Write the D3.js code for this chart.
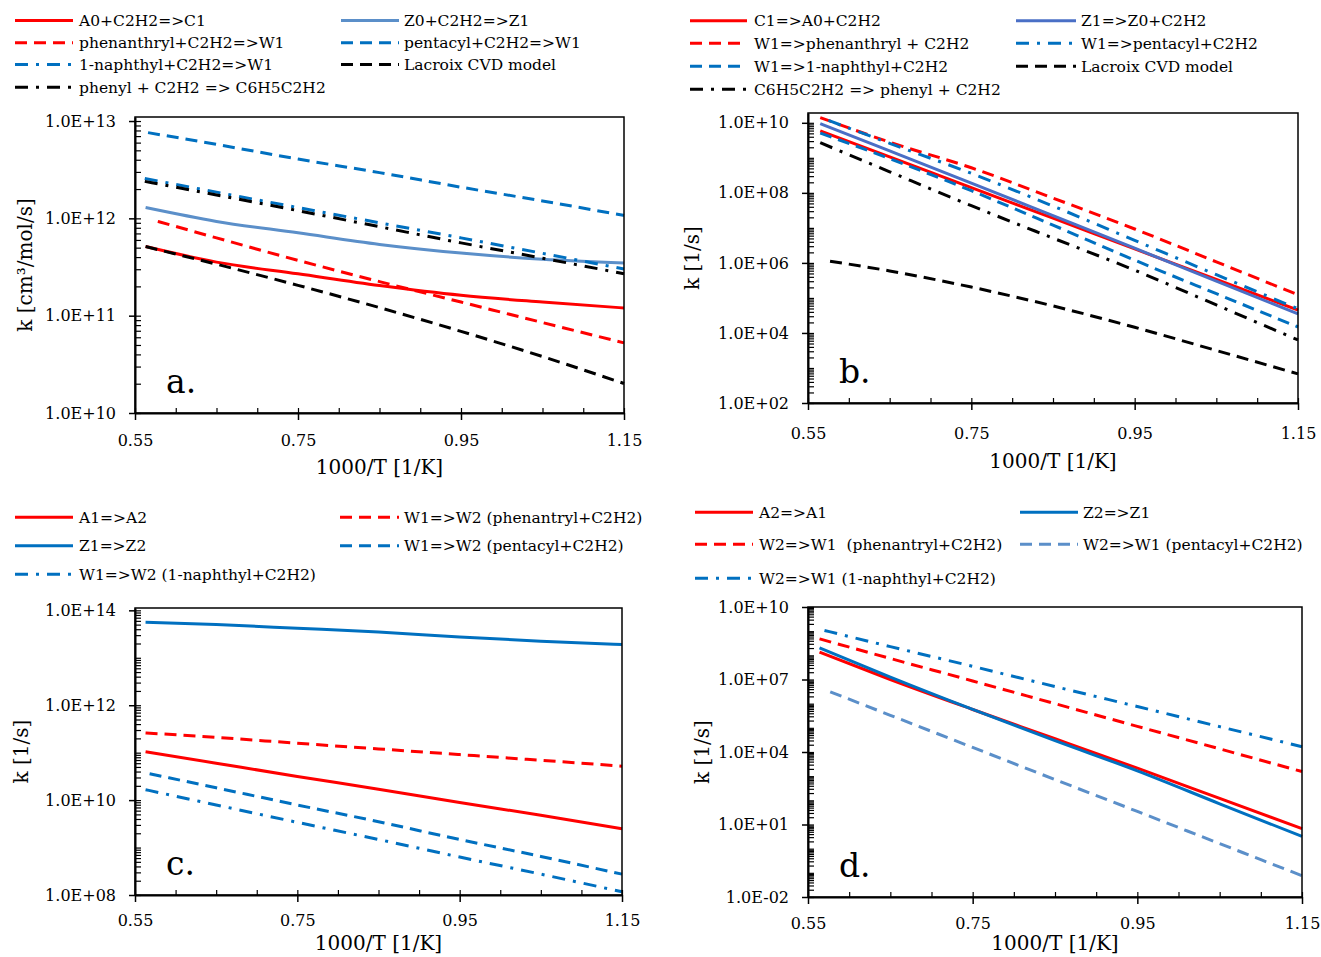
<!DOCTYPE html>
<html>
<head>
<meta charset="utf-8">
<script src="https://cdn.jsdelivr.net/npm/d3@7"></script>
<style>
body{margin:0;background:#fff;}
svg text{font-family:"DejaVu Serif",serif;fill:#000;white-space:pre;}
</style>
</head>
<body>
<svg id="chart" width="1321" height="957"></svg>
<script>
// x grid shared by all curves (first point is per-series start)
const xGrid = [0.65, 0.75, 0.85, 0.95, 1.05, 1.15];
const xTicks = [0.55, 0.75, 0.95, 1.15];
const xMinor = [0.60, 0.65, 0.70, 0.80, 0.85, 0.90, 1.00, 1.05, 1.10];

// ---- panel a ----
const aNames = ["A0+C2H2=>C1", "Z0+C2H2=>Z1", "phenanthryl+C2H2=>W1", "pentacyl+C2H2=>W1",
                "1-naphthyl+C2H2=>W1", "Lacroix CVD model", "phenyl + C2H2 => C6H5C2H2"];
const aStart = [0.563, 0.563, 0.578, 0.566, 0.562, 0.563, 0.562];
const aK = [
  [5.13e11, 3.55e11, 2.69e11, 2.04e11, 1.62e11, 1.38e11, 1.20e11],
  [1.29e12, 9.3e11, 7.1e11, 5.4e11, 4.4e11, 3.8e11, 3.47e11],
  [9.3e11, 6.3e11, 3.7e11, 2.24e11, 1.38e11, 8.5e10, 5.25e10],
  [7.6e12, 5.75e12, 4.07e12, 2.95e12, 2.09e12, 1.51e12, 1.07e12],
  [2.57e12, 1.86e12, 1.29e12, 9.0e11, 6.3e11, 4.37e11, 3.02e11],
  [5.13e11, 3.38e11, 2.05e11, 1.21e11, 6.9e10, 3.8e10, 2.01e10],
  [2.4e12, 1.74e12, 1.2e12, 8.2e11, 5.6e11, 3.9e11, 2.7e11]
];
const aTicks = [1e10, 1e11, 1e12, 1e13];

// ---- panel b ----
const bNames = ["C1=>A0+C2H2", "Z1=>Z0+C2H2", "W1=>phenanthryl + C2H2", "W1=>pentacyl+C2H2",
                "W1=>1-naphthyl+C2H2", "Lacroix CVD model", "C6H5C2H2 => phenyl + C2H2"];
const bStart = [0.565, 0.565, 0.565, 0.575, 0.565, 0.577, 0.565];
const bK = [
  [5.9e9, 1.07e9, 1.41e8, 1.9e7, 2.5e6, 3.4e5, 4.5e4],
  [9.5e9, 1.58e9, 1.9e8, 2.24e7, 2.63e6, 3.0e5, 3.5e4],
  [1.41e10, 2.8e9, 5.2e8, 7.1e7, 9.3e6, 1.07e6, 1.23e5],
  [1.17e10, 2.6e9, 3.6e8, 4.2e7, 4.4e6, 4.6e5, 4.9e4],
  [5.1e9, 9.5e8, 1.15e8, 1.2e7, 1.2e6, 1.32e5, 1.48e4],
  [1.12e6, 5.9e5, 2.04e5, 5.9e4, 1.45e4, 3.16e3, 676],
  [2.7e9, 4.0e8, 4.3e7, 5.1e6, 6.2e5, 6.3e4, 6.3e3]
];
const bTicks = [1e2, 1e4, 1e6, 1e8, 1e10];

// ---- panel c ----
const cNames = ["A1=>A2", "W1=>W2 (phenantryl+C2H2)", "Z1=>Z2", "W1=>W2 (pentacyl+C2H2)",
                "W1=>W2 (1-naphthyl+C2H2)"];
const cStart = [0.563, 0.563, 0.563, 0.568, 0.563];
const cK = [
  [1.05e11, 6.0e10, 3.16e10, 1.7e10, 8.9e9, 4.8e9, 2.5e9],
  [2.6e11, 2.1e11, 1.58e11, 1.2e11, 9.1e10, 6.9e10, 5.2e10],
  [5.6e13, 5.0e13, 4.2e13, 3.5e13, 2.75e13, 2.24e13, 1.9e13],
  [3.6e10, 1.82e10, 7.9e9, 3.5e9, 1.48e9, 6.5e8, 2.75e8],
  [1.66e10, 7.9e9, 3.4e9, 1.48e9, 6.3e8, 2.75e8, 1.17e8]
];
const cTicks = [1e8, 1e10, 1e12, 1e14];

// ---- panel d ----
const dNames = ["A2=>A1", "Z2=>Z1", "W2=>W1  (phenantryl+C2H2)", "W2=>W1 (pentacyl+C2H2)",
                "W2=>W1 (1-naphthyl+C2H2)"];
const dStart = [0.564, 0.564, 0.564, 0.577, 0.570];
const dK = [
  [1.35e8, 1.0e7, 5.75e5, 3.55e4, 2.14e3, 120, 6.8],
  [2.04e8, 1.26e7, 5.75e5, 2.95e4, 1.66e3, 72, 3.2],
  [4.8e8, 7.4e7, 8.7e6, 1.0e6, 1.15e5, 1.35e4, 1.55e3],
  [3.1e6, 3.3e5, 1.55e4, 724, 34.7, 1.62, 0.076],
  [1.07e9, 2.3e8, 3.5e7, 5.1e6, 7.6e5, 1.12e5, 1.66e4]
];
const dTicks = [1e-2, 1e1, 1e4, 1e7, 1e10];

// styles
const RED = "#ff0000", BLUE = "#0070c0", STEEL = "#5b8fc9", INDIGO = "#4a6fc6", BLACK = "#000000";
const SOLID = null, DASH = "12,7", DASHDOT = "13,8,3,8";

const panels = [
  {names: aNames, start: aStart, k: aK, ticks: aTicks, yMax: 1.1e13,
   colors: [RED, STEEL, RED, BLUE, BLUE, BLACK, BLACK],
   dashes: [SOLID, SOLID, DASH, DASH, DASHDOT, DASH, DASHDOT],
   left: 135, right: 624, top: 117, bottom: 413, labelPad: 15, titleDy: 61,
   yTitle: "k [cm³/mol/s]", yTitleX: 25, letter: "a.",
   legCols: [[15, 73, 79], [341, 399, 404]], legRows: [20.5, 42.7, 64.5, 87.3]},
  {names: bNames, start: bStart, k: bK, ticks: bTicks, yMax: Math.pow(10, 10.28),
   colors: [RED, INDIGO, RED, BLUE, BLUE, BLACK, BLACK],
   dashes: [SOLID, SOLID, DASH, DASHDOT, DASH, DASH, DASHDOT],
   left: 808, right: 1298, top: 113, bottom: 403, labelPad: 18, titleDy: 65,
   yTitle: "k [1/s]", yTitleX: 692, letter: "b.",
   legCols: [[690, 747, 754], [1016, 1076, 1081]], legRows: [20.7, 43.3, 66.3, 89.3]},
  {names: cNames, start: cStart, k: cK, ticks: cTicks, yMax: 1.12e14,
   colors: [RED, RED, BLUE, BLUE, BLUE],
   dashes: [SOLID, DASH, SOLID, DASH, DASHDOT],
   left: 135, right: 622, top: 608, bottom: 895, labelPad: 13, titleDy: 55,
   yTitle: "k [1/s]", yTitleX: 21, letter: "c.",
   legCols: [[15, 73, 79], [340, 399, 404]], legRows: [517.3, 545.7, 574.3]},
  {names: dNames, start: dStart, k: dK, ticks: dTicks, yMax: 1e10,
   colors: [RED, BLUE, RED, STEEL, BLUE],
   dashes: [SOLID, SOLID, DASH, DASH, DASHDOT],
   left: 808, right: 1302, top: 607, bottom: 897, labelPad: 14, titleDy: 53,
   yTitle: "k [1/s]", yTitleX: 702, letter: "d.",
   legCols: [[695, 753, 759], [1020, 1078, 1083]], legRows: [512.3, 544.3, 578.3]}
];

const svg = d3.select("#chart");

const fmtE = v => {
  const e = Math.round(Math.log10(v));
  return "1.0E" + (e < 0 ? "-" : "+") + String(Math.abs(e)).padStart(2, "0");
};

function minorTicks(lo, hi, majors){
  const out = [];
  for (let n = Math.floor(Math.log10(lo)); n <= Math.ceil(Math.log10(hi)); n++){
    for (let m = 1; m <= 9; m++){
      const v = m * Math.pow(10, n);
      if (v > lo * 1.0001 && v < hi && !majors.some(t => Math.abs(t - v) / v < 1e-6)) out.push(v);
    }
  }
  return out;
}

function drawPanel(p){
  const x = d3.scaleLinear().domain([0.55, 1.15]).range([p.left, p.right]);
  const lo = p.ticks[0];
  const y = d3.scaleLog().domain([lo, p.yMax]).range([p.bottom, p.top]);
  const g = svg.append("g");

  const line = d3.line()
    .x(d => x(d[0]))
    .y(d => y(d[1]))
    .curve(d3.curveMonotoneX);

  // curves
  p.k.forEach((vals, i) => {
    const xs = [p.start[i]].concat(xGrid);
    g.append("path")
      .datum(xs.map((v, j) => [v, vals[j]]))
      .attr("d", line)
      .attr("fill", "none")
      .attr("stroke", p.colors[i])
      .attr("stroke-width", 3)
      .attr("stroke-dasharray", p.dashes[i]);
  });

  // frame
  g.append("rect")
    .attr("x", p.left).attr("y", p.top)
    .attr("width", p.right - p.left).attr("height", p.bottom - p.top)
    .attr("fill", "none").attr("stroke", "#000").attr("stroke-width", 1.5);

  // y axis (outside major ticks + labels)
  const yAx = g.append("g")
    .attr("transform", `translate(${p.left},0)`)
    .call(d3.axisLeft(y).tickValues(p.ticks).tickFormat(fmtE)
      .tickSize(6).tickSizeOuter(0).tickPadding(13));
  yAx.select(".domain").attr("stroke-width", 2);
  yAx.selectAll("line").attr("stroke-width", 1.5);
  yAx.selectAll("text").attr("font-size", 16).attr("font-family", "DejaVu Serif");

  // y inside ticks: majors + minors
  const yIn = g.append("g")
    .attr("transform", `translate(${p.left},0)`)
    .call(d3.axisRight(y).tickValues(p.ticks.concat(minorTicks(lo, p.yMax, p.ticks)))
      .tickFormat("").tickSize(6).tickSizeOuter(0));
  yIn.select(".domain").remove();
  yIn.selectAll("line").attr("stroke-width", 1.2);

  // x axis
  const xAx = g.append("g")
    .attr("transform", `translate(0,${p.bottom})`)
    .call(d3.axisBottom(x).tickValues(xTicks).tickFormat(d3.format(".2f"))
      .tickSize(7).tickSizeOuter(0).tickPadding(p.labelPad));
  xAx.select(".domain").attr("stroke-width", 2);
  xAx.selectAll("line").attr("stroke-width", 1.5);
  xAx.selectAll("text").attr("font-size", 16).attr("font-family", "DejaVu Serif");

  const xIn = g.append("g")
    .attr("transform", `translate(0,${p.bottom})`)
    .call(d3.axisTop(x).tickValues(xTicks.concat(xMinor)).tickFormat("")
      .tickSize(5).tickSizeOuter(0));
  xIn.select(".domain").remove();
  xIn.selectAll("line").attr("stroke-width", 1.2);

  // axis titles
  g.append("text")
    .attr("x", (p.left + p.right) / 2)
    .attr("y", p.bottom + p.titleDy)
    .attr("text-anchor", "middle")
    .attr("font-size", 20)
    .text("1000/T [1/K]");

  g.append("text")
    .attr("transform", `translate(${p.yTitleX},${(p.top + p.bottom) / 2}) rotate(-90)`)
    .attr("text-anchor", "middle")
    .attr("dy", "0.35em")
    .attr("font-size", 20)
    .text(p.yTitle);

  // panel letter
  g.append("text")
    .attr("x", p.left + 31)
    .attr("y", p.bottom - 20)
    .attr("font-size", 33)
    .text(p.letter);

  // legend (row-major, two columns)
  const leg = g.append("g");
  p.names.forEach((name, i) => {
    const col = p.legCols[i % 2];
    const row = p.legRows[Math.floor(i / 2)];
    leg.append("line")
      .attr("x1", col[0]).attr("x2", col[1])
      .attr("y1", row).attr("y2", row)
      .attr("stroke", p.colors[i])
      .attr("stroke-width", 3)
      .attr("stroke-dasharray", p.dashes[i]);
    leg.append("text")
      .attr("x", col[2])
      .attr("y", row)
      .attr("dy", "0.35em")
      .attr("font-size", 15.5)
      .text(name);
  });
}

panels.forEach(drawPanel);
</script>
</body>
</html>
